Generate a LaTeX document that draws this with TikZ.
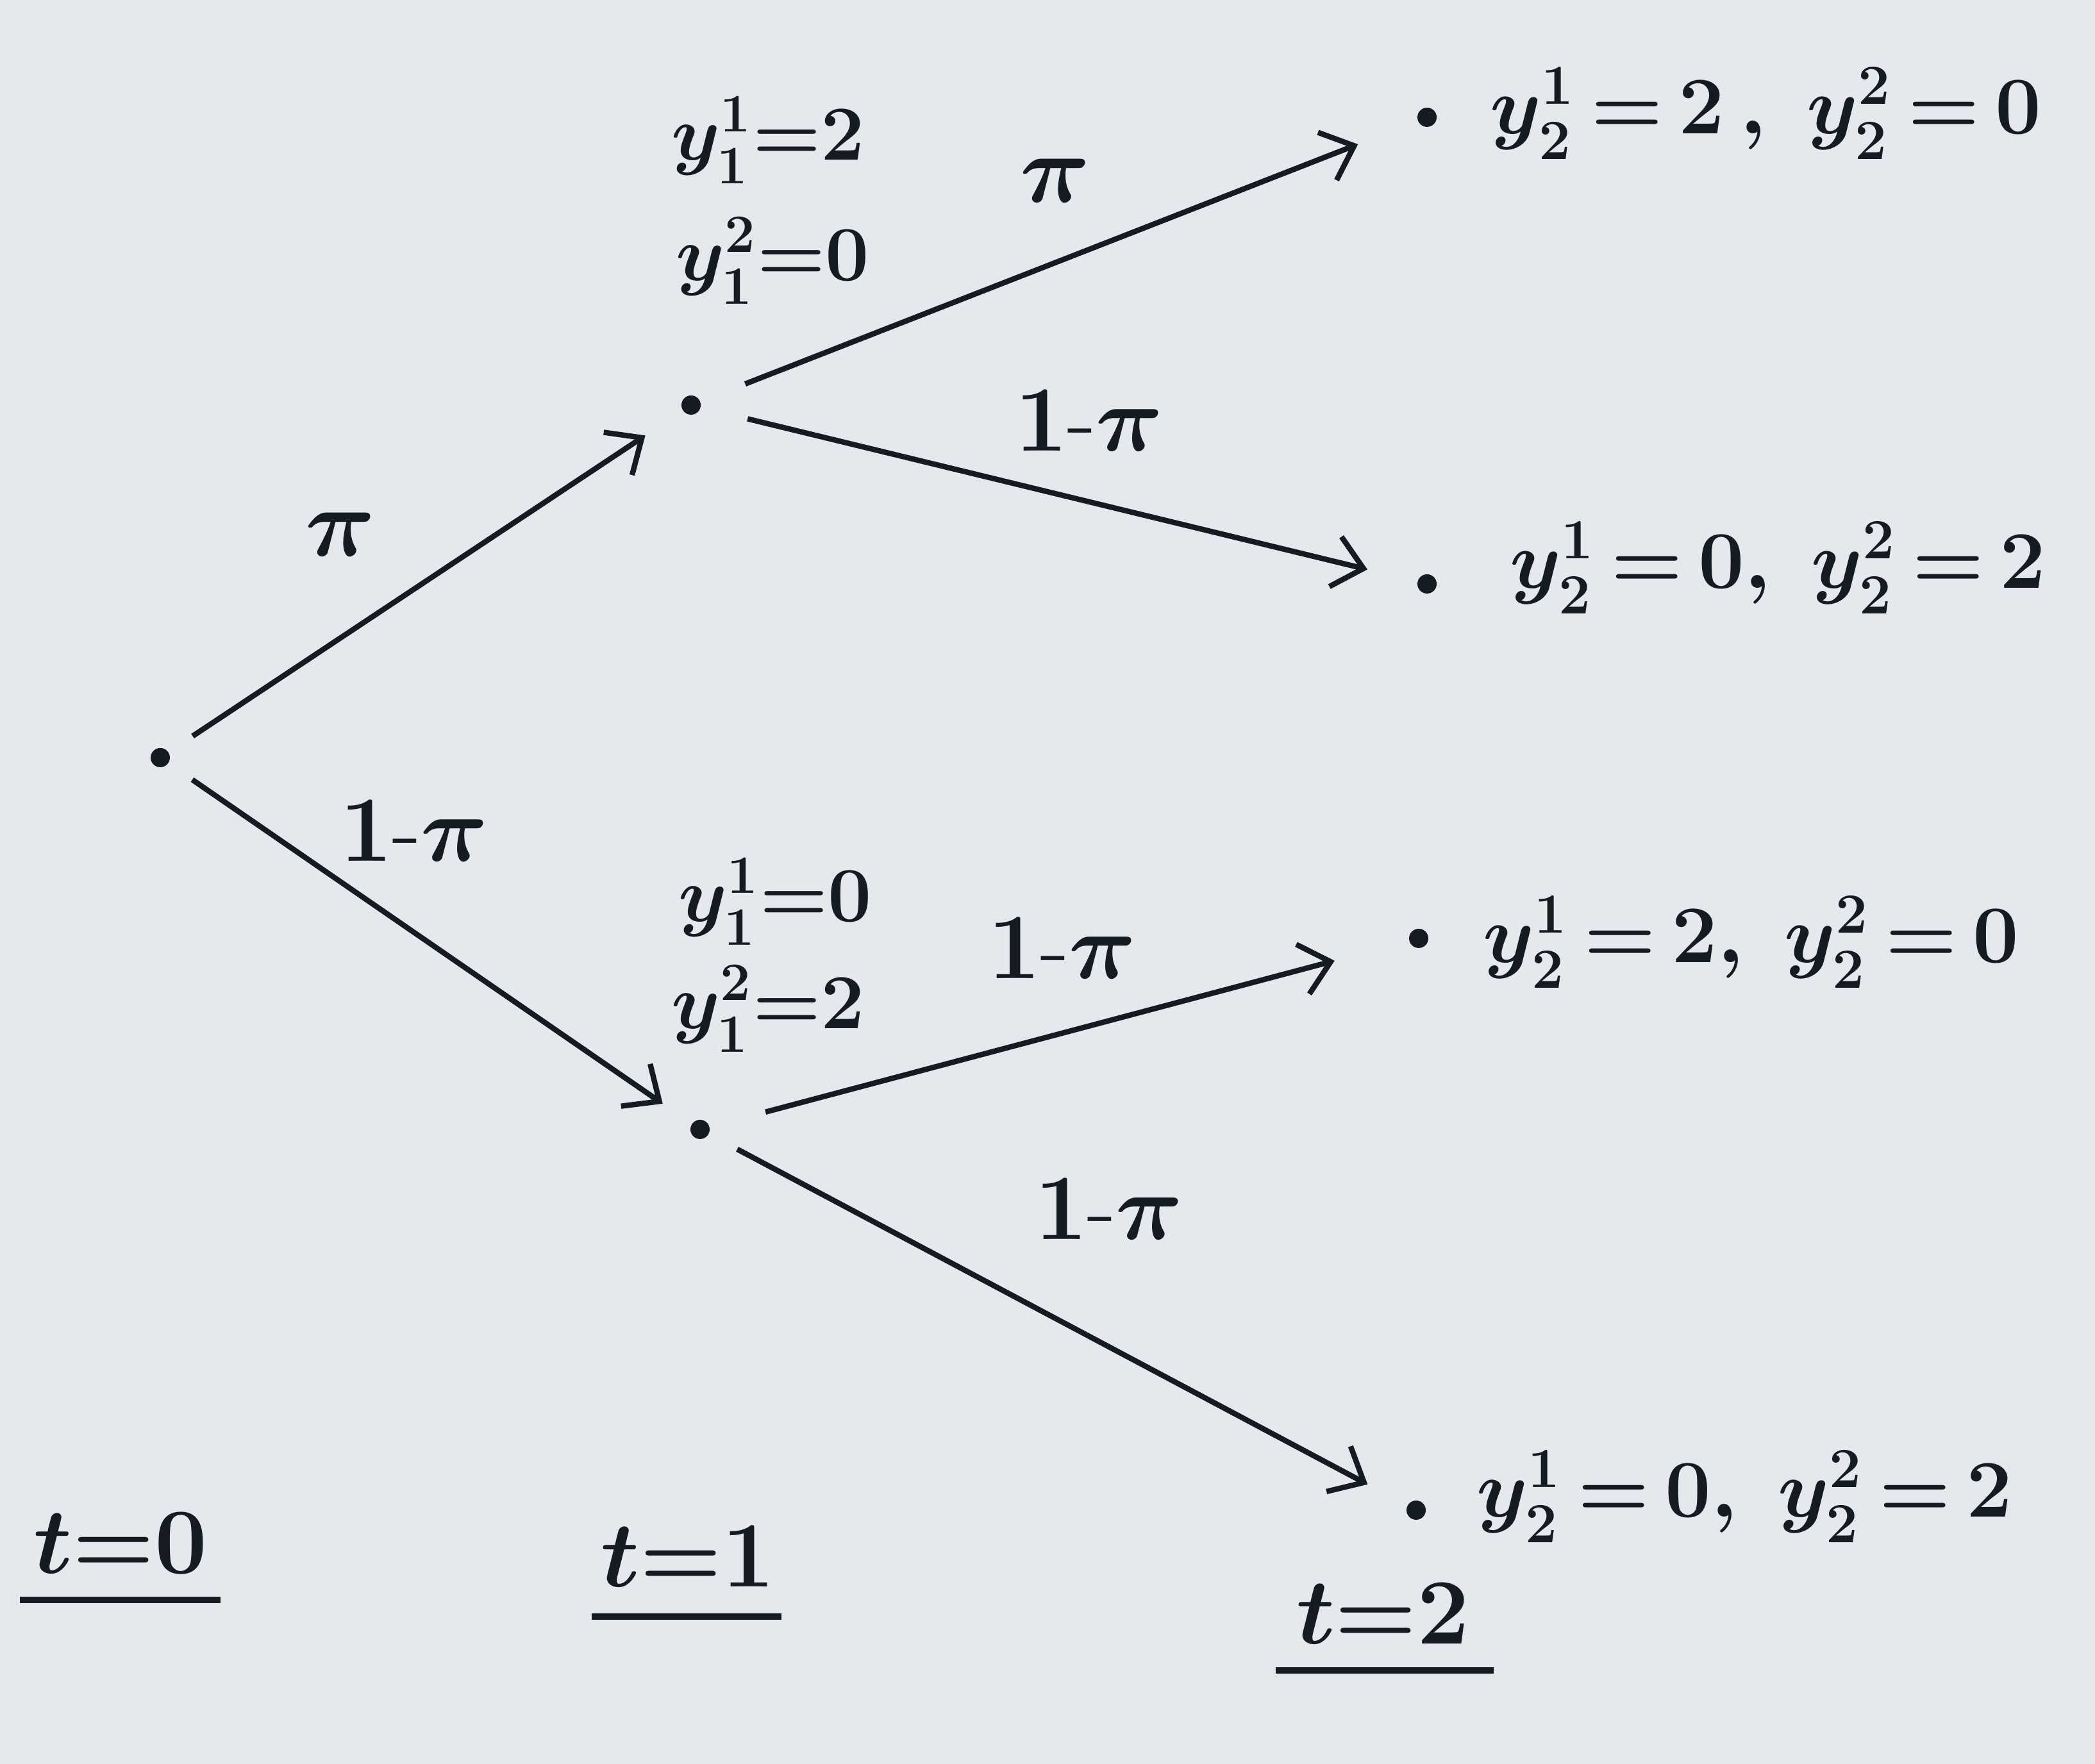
\documentclass[tikz,border=0pt]{standalone}
\usetikzlibrary{arrows.meta}
\definecolor{paper}{HTML}{E5E8ED}
\definecolor{ink}{HTML}{151C21}
\newcommand{\sctxt}[2]{\scalebox{#1}{\LARGE\boldmath $#2$}}
\tikzset{
  dot/.style={circle,fill=ink,inner sep=0pt,minimum size=0.3cm},
  txt/.style={text=ink,inner sep=0pt},
  arr/.style={draw=ink,line width=2.4pt,-{Straight Barb[length=0.45cm,width=0.8cm,line width=2.4pt]}},
  uline/.style={draw=ink,line width=2.6pt}
}
\begin{document}
\begin{tikzpicture}
\fill[paper] (0,0) rectangle (32.68,27.52);
\useasboundingbox (0,0) rectangle (32.68,27.52);
% dots
\node[dot] (r) at (2.50,15.70) {};
\node[dot] (u) at (10.78,21.20) {};
\node[dot] (l) at (10.92,9.90) {};
\node[dot] (a) at (22.26,25.69) {};
\node[dot] (b) at (22.26,18.41) {};
\node[dot] (c) at (22.13,12.88) {};
\node[dot] (d) at (22.09,3.96) {};
% arrows
\draw[arr,shorten <=0.45cm,shorten >=0.7cm] (r) -- (u);
\draw[arr,shorten <=0.45cm,shorten >=0.55cm] (r) -- (l);
\draw[arr,shorten <=0.75cm,shorten >=1.0cm] (u) -- (a);
\draw[arr,shorten <=0.75cm,shorten >=0.8cm] (u) -- (b);
\draw[arr,shorten <=0.9cm,shorten >=1.2cm] (l) -- (c);
\draw[arr,shorten <=0.5cm,shorten >=0.7cm] (l) -- (d);
% edge labels
\node[txt] (p1) at (5.31,19.18) {\sctxt{2.5}{\pi}};
\node[txt] (p2) at (6.46,14.55) {\sctxt{2.4}{1\mbox{-}\pi}};
\node[txt] (p3) at (16.46,24.70) {\sctxt{2.5}{\pi}};
\node[txt] (p4) at (16.99,20.95) {\sctxt{2.4}{1\mbox{-}\pi}};
\node[txt] (p5) at (16.57,12.72) {\sctxt{2.4}{1\mbox{-}\pi}};
\node[txt] (p6) at (17.30,8.65) {\sctxt{2.4}{1\mbox{-}\pi}};
% node values
\node[txt] (u1) at (11.98,25.33) {\sctxt{2.0}{y^1_1{=}2}};
\node[txt] (u2) at (12.05,23.45) {\sctxt{2.0}{y^2_1{=}0}};
\node[txt] (l1) at (12.09,13.45) {\sctxt{2.0}{y^1_1{=}0}};
\node[txt] (l2) at (11.98,11.78) {\sctxt{2.0}{y^2_1{=}2}};
% leaves
\node[txt,anchor=west] (ta) at (23.24,25.75) {\sctxt{2.1}{y^1_2\,{=}\,2\,,\ y^2_2\,{=}\,0}};
\node[txt,anchor=west] (tb) at (23.55,18.66) {\sctxt{2.1}{y^1_2\,{=}\,0,\ y^2_2\,{=}\,2}};
\node[txt,anchor=west] (tc) at (23.13,12.82) {\sctxt{2.1}{y^1_2\,{=}\,2,\ y^2_2\,{=}\,0}};
\node[txt,anchor=west] (td) at (23.03,4.17) {\sctxt{2.1}{y^1_2\,{=}\,0,\ y^2_2\,{=}\,2}};
% time labels
\node[txt] (t0) at (1.88,3.44) {\sctxt{2.4}{t{=}0}};
\node[txt] (t1) at (10.73,3.23) {\sctxt{2.4}{t{=}1}};
\node[txt] (t2) at (21.57,2.34) {\sctxt{2.4}{t{=}2}};
\draw[uline] (0.31,2.56) -- (3.44,2.56);
\draw[uline] (9.23,2.30) -- (12.19,2.30);
\draw[uline] (19.90,1.46) -- (23.30,1.46);
\end{tikzpicture}
\end{document}
